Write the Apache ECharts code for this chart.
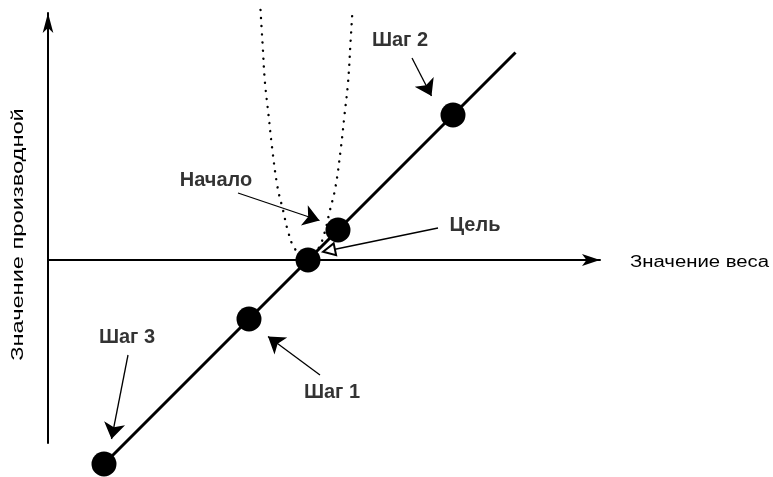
<!DOCTYPE html>
<html><head><meta charset="utf-8">
<script src="https://cdn.jsdelivr.net/npm/echarts@6/dist/echarts.min.js"></script>
<style>html,body{margin:0;padding:0;background:#fff}#c{width:773px;height:477px}</style>
</head><body><div id="c"></div>
<script>
// Axis names
const xAxisName = 'Значение веса';
const yAxisName = 'Значение производной';

// Straight derivative line (weight, derivative)
const derivLine = [[11.2, -40.8], [93.5, 41.5]];

// Dots on the line
const dotNames = ['Шаг 3', 'Шаг 1', 'Цель', 'Начало', 'Шаг 2'];
const dotPoints = [[11.2, -40.8], [40.2, -11.8], [52, 0], [58, 6], [81, 29]];

// Dotted error curve
const curvePoints = [
  [42.5, 50], [42.9, 43.4], [43.4, 35.4], [44.1, 29], [44.8, 22.6], [45.9, 14.6],
  [47.0, 10], [48.1, 5.4], [49.4, 2.2], [51.7, 0.2],
  [54.0, 2.2], [55.3, 5.4], [56.4, 10], [57.5, 14.6], [58.6, 22.6], [59.3, 29],
  [60.0, 35.4], [60.5, 43.4], [60.9, 50]
];

// Annotation labels
const labelNames = ['Начало', 'Цель', 'Шаг 2', 'Шаг 1', 'Шаг 3'];
const labelPos = [[33.6, 16], [85.4, 7], [70.4, 44], [56.8, -26.4], [15.8, -15.4]];

// Annotation arrows (from, to)
const arrowFrom = [[38, 13.4], [72.8, 40.4], [54.4, -23], [16, -19]];
const arrowTo = [[54.3, 7.9], [76.7, 32.8], [44.0, -15.3], [12.7, -35.8]];
const hollowFrom = [[78, 6.4]];
const hollowTo = [[56.2, 1.9]];

const chart = echarts.init(document.getElementById('c'));
const axisLineStyle = {color: '#000', width: 2};
chart.setOption({
  animation: false,
  backgroundColor: '#fff',
  grid: {left: 48, top: 13, width: 552, height: 430, containLabel: false},
  xAxis: {
    type: 'value', min: 0, max: 110.4,
    axisLine: {onZero: true, symbol: ['none', 'arrow'], symbolSize: [9, 18], lineStyle: axisLineStyle},
    axisTick: {show: false}, axisLabel: {show: false}, splitLine: {show: false}
  },
  yAxis: {
    type: 'value', min: -36.6, max: 49.4,
    axisLine: {onZero: false, symbol: ['none', 'arrow'], symbolSize: [8, 20], lineStyle: axisLineStyle},
    axisTick: {show: false}, axisLabel: {show: false}, splitLine: {show: false}
  },
  graphic: [
    {type: 'text', x: 630, y: 263, scaleX: 1.27,
      style: {text: xAxisName, fontFamily: 'Liberation Sans', fontSize: 16, fill: '#000', align: 'left', verticalAlign: 'middle'}},
    {type: 'text', x: 18, y: 234.5, rotation: Math.PI / 2, scaleX: 1.39,
      style: {text: yAxisName, fontFamily: 'Liberation Sans', fontSize: 17, fill: '#000', align: 'center', verticalAlign: 'middle'}}
  ],
  series: [
    {
      type: 'line', data: curvePoints, smooth: 0.4, showSymbol: false, clip: false, silent: true,
      lineStyle: {color: '#000', width: 2.4, type: [0.1, 8], cap: 'round'}, z: 1
    },
    {
      type: 'line', data: derivLine, showSymbol: false, clip: false, silent: true,
      lineStyle: {color: '#000', width: 3}, z: 2
    },
    {
      type: 'lines', coordinateSystem: 'cartesian2d', silent: true, z: 3,
      symbol: ['none', 'arrow'], symbolSize: 16,
      lineStyle: {color: '#000', width: 1.3, opacity: 1},
      data: arrowFrom.map((f, i) => ({coords: [f, arrowTo[i]]}))
    },
    {
      type: 'lines', coordinateSystem: 'cartesian2d', silent: true, z: 3,
      symbol: ['none', 'emptyTriangle'], symbolSize: 12,
      lineStyle: {color: '#000', width: 1.5, opacity: 1},
      data: hollowFrom.map((f, i) => ({coords: [f, hollowTo[i]]}))
    },
    {
      type: 'scatter', data: dotPoints.map((p, i) => ({name: dotNames[i], value: p})),
      symbolSize: 25, clip: false, silent: true, z: 4,
      itemStyle: {color: '#000', opacity: 1}
    },
    {
      type: 'scatter', data: labelPos.map((p, i) => ({name: labelNames[i], value: p})),
      symbolSize: 0, clip: false, silent: true, z: 5,
      label: {show: true, position: 'inside', formatter: '{b}', fontFamily: 'Liberation Sans', fontWeight: 'bold', fontSize: 20, color: '#000'}
    }
  ]
});
</script></body></html>
